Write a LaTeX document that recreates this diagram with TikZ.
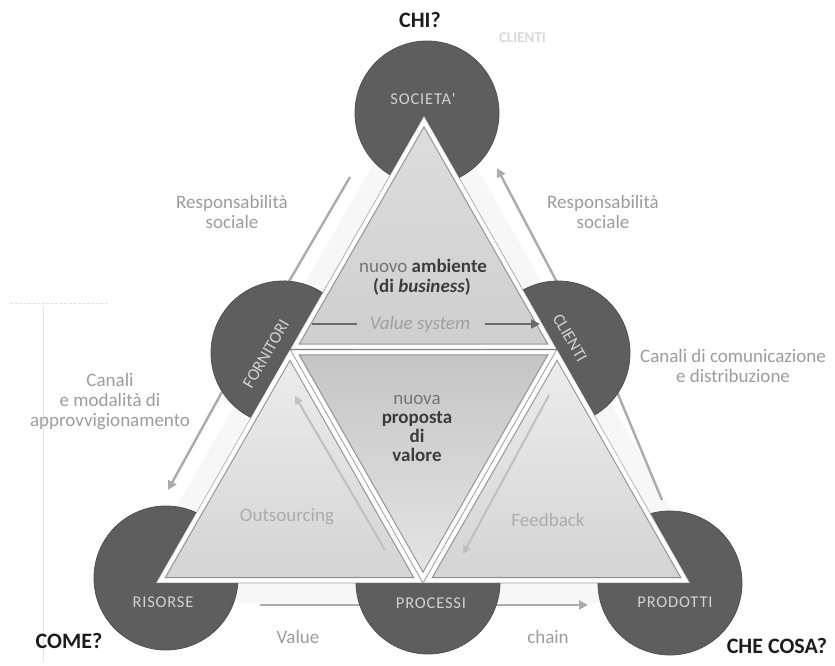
\documentclass[tikz,border=0pt]{standalone}
\usepackage{fontspec}
\setmainfont{Carlito}
\newfontfamily\capsfont[LetterSpace=5]{Carlito}
\usetikzlibrary{calc,arrows.meta}
\definecolor{discc}{HTML}{5E5E5E}
\definecolor{discedge}{HTML}{505050}
\definecolor{disctext}{HTML}{D2D2D2}
\definecolor{lblc}{HTML}{9C9C9C}
\definecolor{arrc}{HTML}{ABABAB}
\definecolor{darkc}{HTML}{6A6A6A}
\definecolor{innerc}{HTML}{8E8E8E}
\definecolor{txtc}{HTML}{3C3C3C}
\definecolor{midc}{HTML}{747474}
\definecolor{qc}{HTML}{1C1C1C}
\newcommand\mytri[5]{%
  \coordinate (g) at ($0.33333*(#1)+0.33333*(#2)+0.33334*(#3)$);
  \fill[top color=#4, bottom color=#5] (#1) -- (#2) -- (#3) -- cycle;
  \draw[white, line width=3.6pt, line join=miter] ($(g)!0.965!(#1)$) -- ($(g)!0.965!(#2)$) -- ($(g)!0.965!(#3)$) -- cycle;
  \draw[innerc, line width=0.8pt] ($(g)!0.93!(#1)$) -- ($(g)!0.93!(#2)$) -- ($(g)!0.93!(#3)$) -- cycle;
}
\begin{document}
\begin{tikzpicture}[x=1pt,y=-1pt,
  disc/.style={circle, minimum size=144pt, inner sep=0pt, fill=discc, draw=discedge, line width=0.8pt},
  disclbl/.style={text=disctext, font=\capsfont\fontsize{16.5}{16.5}\selectfont, inner sep=0pt},
  rotlbl/.style={text=disctext, font=\fontsize{17}{17}\selectfont, inner sep=0pt},
  outlbl/.style={text=lblc, font=\fontsize{19}{20}\selectfont, align=center, inner sep=0pt},
  inlbl/.style={text=midc, font=\fontsize{19}{19}\selectfont, align=center, inner sep=0pt},
  qword/.style={text=qc, font=\bfseries\fontsize{22}{22}\selectfont, inner sep=0pt},
  arrline/.style={draw=arrc, line width=2.4pt, -{Triangle[length=9pt,width=9pt]}},
  darkline/.style={draw=darkc, line width=2.6pt},
  faint/.style={draw=gray!22, line width=0.8pt}
]
\useasboundingbox (0,0) rectangle (835,666);
% faint artifacts at left
\coordinate (fa1) at (10,303); \coordinate (fa2) at (108,303);
\coordinate (fb1) at (43,306); \coordinate (fb2) at (43,662);
\draw[faint, dash pattern=on 3pt off 1.5pt] (fa1) -- (fa2);
\draw[faint] (fb1) -- (fb2);
% big triangle geometry
\coordinate (A) at (424,116);
\coordinate (B) at (156,583);
\coordinate (C) at (690,583);
\coordinate (AB) at ($(A)!0.5!(B)$);
\coordinate (AC) at ($(A)!0.5!(C)$);
\coordinate (BC) at ($(B)!0.5!(C)$);
\coordinate (G) at ($0.33333*(A)+0.33333*(B)+0.33334*(C)$);
% light band around the triangle
\fill[gray!6] ($(G)!1.13!(A)$) -- ($(G)!1.13!(B)$) -- ($(G)!1.13!(C)$) -- cycle;
% outer connectors
\coordinate (rs1a) at (350,177); \coordinate (rs1b) at (284,290);
\coordinate (rs2a) at (560,288); \coordinate (rs2b) at (497,168);
\coordinate (ca1a) at (222,392); \coordinate (ca1b) at (168,490);
\coordinate (ca2a) at (662,500); \coordinate (ca2b) at (610,375);
\coordinate (vc1) at (260,605); \coordinate (vc2) at (372,605);
\coordinate (vc3) at (490,605); \coordinate (vc4) at (588,605);
\draw[arrline] (rs1a) -- (rs1b);
\draw[arrline] (rs2a) -- (rs2b);
\draw[arrline] (ca1a) -- (ca1b);
\draw[arrline] (ca2a) -- (ca2b);
\draw[arrline] (vc1) -- (vc2);
\draw[arrline] (vc3) -- (vc4);
% discs
\node[disc] (soc) at (427,113) {};
\node[disc] (for) at (283,353) {};
\node[disc] (cli) at (558,353) {};
\node[disc] (ris) at (166,578) {};
\node[disc] (pro) at (428,582) {};
\node[disc] (prd) at (670,583) {};
\node[disclbl] (socl) at (423,99) {SOCIETA'};
\node[rotlbl, rotate=60] (forl) at (266,354) {FORNITORI};
\node[rotlbl, rotate=-60] (clil) at (570,338) {CLIENTI};
\node[disclbl] (risl) at (163,602) {RISORSE};
\node[disclbl] (prol) at (431,603) {PROCESSI};
\node[disclbl] (prdl) at (675,602) {PRODOTTI};
% triangles
\mytri{A}{AB}{AC}{gray!26}{gray!38}
\mytri{AB}{AC}{BC}{gray!46}{gray!20}
\mytri{AB}{B}{BC}{gray!14}{gray!34}
\mytri{AC}{BC}{C}{gray!14}{gray!34}
% texts inside
\node[inlbl] (amb) at (423,266) {nuovo \textcolor{txtc}{\textbf{ambiente}}};
\node[inlbl, text=txtc] (bus) at (422,287) {\textbf{(di \textit{business})}};
\node[inlbl, text=gray!75] (vs) at (420,324) {\textit{Value system}};
\coordinate (vs1) at (312,324); \coordinate (vs2) at (357,324);
\coordinate (vs3) at (485,324); \coordinate (vs4) at (540,324);
\draw[darkline] (vs1) -- (vs2);
\draw[darkline, -{Triangle[length=9pt,width=9pt]}] (vs3) -- (vs4);
\node[inlbl] (prop) at (417,428) {nuova\\\textcolor{txtc}{\textbf{proposta}}\\\textcolor{txtc}{\textbf{di}}\\\textcolor{txtc}{\textbf{valore}}};
\node[inlbl, text=gray!65] (outs) at (287,517) {Outsourcing};
\node[inlbl, text=gray!65] (feed) at (548,520) {Feedback};
\coordinate (oa1) at (385,550); \coordinate (oa2) at (295,396);
\coordinate (fb3) at (549,395); \coordinate (fb4) at (463,554);
\draw[draw=gray!50, line width=2pt, -{Triangle[length=8pt,width=8pt]}] (oa1) -- (oa2);
\draw[draw=gray!50, line width=2pt, -{Triangle[length=8pt,width=8pt]}] (fb3) -- (fb4);
% outer labels
\node[outlbl] (resl) at (232,212) {Responsabilità\\sociale};
\node[outlbl] (resr) at (603,212) {Responsabilità\\sociale};
\node[outlbl] (canl) at (110,402) {Canali\\e modalità di\\approvvigionamento};
\node[outlbl] (canr) at (733,366) {Canali di comunicazione\\e distribuzione};
\node[outlbl] (val) at (298,637) {Value};
\node[outlbl] (chn) at (548,637) {chain};
% question words
\node[qword] (chi) at (420,20) {CHI?};
\node[qword] (come) at (69,641) {COME?};
\node[qword] (cosa) at (777,646) {CHE COSA?};
\node[inner sep=0pt, text=gray!30, font=\bfseries\fontsize{15}{15}\selectfont] (gh) at (522.5,37.5) {CLIENTI};
\end{tikzpicture}
\end{document}
